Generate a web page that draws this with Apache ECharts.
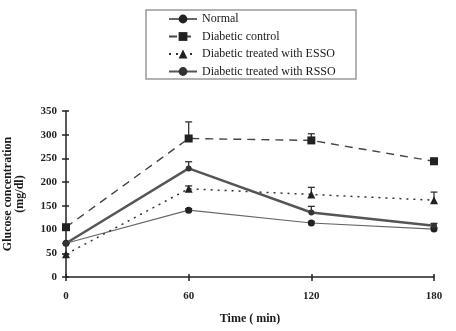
<!DOCTYPE html>
<html>
<head>
<meta charset="utf-8">
<script src="https://cdn.jsdelivr.net/npm/echarts@6/dist/echarts.min.js"></script>
<style>
  html, body { margin: 0; padding: 0; background: #fff; }
  #chart { width: 456px; height: 331px; }
</style>
</head>
<body>
<div id="chart"></div>
<script>
// Sampling times (min)
const times = [0, 60, 120, 180];

// Mean glucose concentration (mg/dl) per group
const normal = [71, 141, 114, 101];
const diabeticControl = [105, 292, 288, 244];
const treatedESSO = [48, 186, 174, 162];
const treatedRSSO = [71, 229, 136, 108];

// Upper error (SE) per group
const normalErr = [0, 3, 3, 3];
const diabeticControlErr = [0, 35, 14, 6];
const treatedESSOErr = [0, 6, 15, 17];
const treatedRSSOErr = [0, 14, 13, 5];

// Axis ticks
const xTicks = [0, 60, 120, 180];
const yMax = 350, yStep = 50;

const seriesNames = ['Normal', 'Diabetic control', 'Diabetic treated with ESSO', 'Diabetic treated with RSSO'];

const FONT = '"Liberation Serif", "DejaVu Serif", serif';
const INK = '#1a1a1a';

function pairs(vals) { return times.map((t, i) => [t, vals[i]]); }

function errorSeries(vals, errs) {
  return {
    type: 'custom',
    silent: true,
    z: 1,
    data: times.map((t, i) => [t, vals[i], vals[i] + errs[i]]),
    renderItem: function (params, api) {
      const base = api.coord([api.value(0), api.value(1)]);
      const top = api.coord([api.value(0), api.value(2)]);
      const style = { stroke: '#333', lineWidth: 1.3 };
      return {
        type: 'group',
        children: [
          { type: 'line', shape: { x1: base[0], y1: base[1], x2: top[0], y2: top[1] }, style: style },
          { type: 'line', shape: { x1: top[0] - 3.5, y1: top[1], x2: top[0] + 3.5, y2: top[1] }, style: style }
        ]
      };
    }
  };
}

const chart = echarts.init(document.getElementById('chart'), null, { renderer: 'canvas' });

const axisText = { fontFamily: FONT, fontSize: 11, fontWeight: 'bold', color: '#222' };

chart.setOption({
  backgroundColor: '#fff',
  animation: false,
  grid: { left: 66, right: 22, top: 111, bottom: 54, outerBoundsMode: 'none', containLabel: false },
  graphic: [{
    type: 'rect',
    shape: { x: 146, y: 10, width: 210, height: 69 },
    style: { fill: 'none', stroke: '#999', lineWidth: 1.5 },
    silent: true
  }],
  legend: {
    data: seriesNames,
    orient: 'vertical',
    left: 168,
    top: 13,
    padding: 0,
    itemWidth: 28,
    itemHeight: 11,
    itemGap: 5.5,
    textStyle: { fontFamily: FONT, fontSize: 12, color: INK },
    inactiveColor: '#ccc'
  },
  xAxis: [{
    type: 'value',
    min: 0, max: 180, interval: 60,
    name: 'Time ( min)',
    nameLocation: 'middle',
    nameGap: 36,
    nameTextStyle: { fontFamily: FONT, fontSize: 12, fontWeight: 'bold', color: INK },
    axisLine: { lineStyle: { color: '#222', width: 1.5 } },
    axisTick: { length: 4, lineStyle: { color: '#222', width: 1.5 } },
    axisLabel: Object.assign({ margin: 14, formatter: v => xTicks.includes(v) ? String(v) : '' }, axisText),
    splitLine: { show: false }
  }, {
    // mirror axis so the tick marks cross the baseline
    type: 'value',
    position: 'bottom',
    min: 0, max: 180, interval: 60,
    axisLine: { show: false },
    axisTick: { inside: true, length: 3, lineStyle: { color: '#222', width: 1.5 } },
    axisLabel: { show: false },
    splitLine: { show: false }
  }],
  yAxis: [{
    type: 'value',
    min: 0, max: yMax, interval: yStep,
    name: 'Glucose concentration\n(mg/dl)',
    nameLocation: 'middle',
    nameGap: 40,
    nameMoveOverlap: false,
    nameTextStyle: { fontFamily: FONT, fontSize: 12, fontWeight: 'bold', color: INK, lineHeight: 12 },
    axisLine: { show: true, lineStyle: { color: '#222', width: 1.5 } },
    axisTick: { show: true, length: 4, lineStyle: { color: '#222', width: 1.5 } },
    axisLabel: Object.assign({ margin: 9 }, axisText),
    splitLine: { show: false }
  }, {
    type: 'value',
    position: 'left',
    min: 0, max: yMax, interval: yStep,
    axisLine: { show: false },
    axisTick: { show: true, inside: true, length: 3, lineStyle: { color: '#222', width: 1.5 } },
    axisLabel: { show: false },
    splitLine: { show: false }
  }],
  series: [
    errorSeries(normal, normalErr),
    errorSeries(diabeticControl, diabeticControlErr),
    errorSeries(treatedESSO, treatedESSOErr),
    errorSeries(treatedRSSO, treatedRSSOErr),
    {
      name: seriesNames[0], type: 'line', z: 3,
      data: pairs(normal),
      symbol: 'circle', symbolSize: 7,
      itemStyle: { color: '#222' },
      lineStyle: { color: '#666', width: 1.1, type: 'solid' }
    },
    {
      name: seriesNames[1], type: 'line', z: 3,
      data: pairs(diabeticControl),
      symbol: 'rect', symbolSize: 8,
      itemStyle: { color: '#222' },
      lineStyle: { color: '#444', width: 1.4, type: [8, 6] }
    },
    {
      name: seriesNames[2], type: 'line', z: 3,
      data: pairs(treatedESSO),
      symbol: 'triangle', symbolSize: 8,
      itemStyle: { color: '#222' },
      lineStyle: { color: '#333', width: 1.5, type: [2, 5] }
    },
    {
      name: seriesNames[3], type: 'line', z: 4,
      data: pairs(treatedRSSO),
      symbol: 'circle', symbolSize: 6,
      itemStyle: { color: '#333' },
      lineStyle: { color: '#555', width: 2.4, type: 'solid' }
    }
  ]
});
</script>
</body>
</html>
